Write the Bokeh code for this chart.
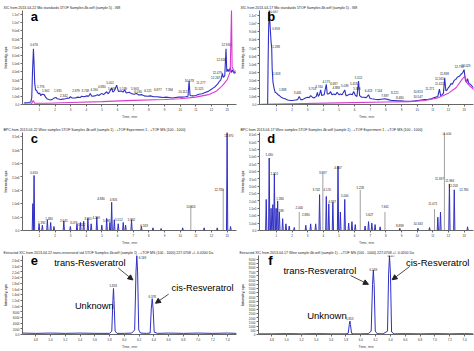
from bokeh.plotting import figure
from bokeh.layouts import column, row
from bokeh.models import FixedTicker, Label, Arrow, NormalHead, Range1d
from bokeh.embed import file_html
from bokeh.resources import INLINE
from bokeh.core.properties import value

BLUE = "#3030c4"
PINK = "#d83ccf"
GREY = "#a0a0a0"
FONT = "Liberation Sans"

# ---------------- data ----------------
# panel a : XIC total traces (time min, intensity 1e6)
a_blue_t = [0.03, 0.30, 0.45, 0.51, 0.56, 0.62, 0.66, 0.70, 0.75, 0.82, 0.87, 0.95, 1.02, 1.08, 1.18, 1.30, 1.40, 1.51,
            1.62, 1.72, 1.85, 1.95, 2.05, 2.15, 2.35, 2.50, 2.67, 2.80, 2.90, 2.98, 3.08, 3.30, 3.45, 3.60, 3.72, 3.85,
            4.04, 4.15, 4.25, 4.35, 4.56, 4.70, 4.80, 4.99, 5.10, 5.30, 5.40, 5.50, 5.62, 5.70, 5.80, 5.94, 6.05, 6.25,
            6.35, 6.45, 6.55, 6.75, 6.90, 7.05, 7.20, 7.35, 7.55, 7.70, 7.90, 8.10, 8.30, 8.50, 8.70, 8.90, 9.10, 9.30,
            9.50, 9.70, 9.90, 10.10, 10.35, 10.50, 10.57, 10.63, 10.80, 11.00, 11.20, 11.40, 11.60, 11.80, 11.95, 12.10,
            12.25, 12.40, 12.50, 12.60, 12.70, 12.75, 12.85, 12.93, 12.98, 13.05, 13.12, 13.20, 13.28, 13.35, 13.45, 13.55]
a_blue_y = [0.20, 0.25, 0.30, 0.80, 4.00, 6.80, 5.00, 2.60, 1.80, 1.70, 1.50, 1.30, 1.40, 1.10, 1.25, 1.20, 0.90, 0.66,
            0.60, 0.55, 0.65, 0.80, 0.85, 0.70, 0.60, 0.65, 0.70, 0.80, 0.75, 0.95, 0.80, 0.80, 0.90, 0.85, 1.00, 0.95,
            1.05, 1.00, 1.35, 1.00, 1.05, 1.20, 1.10, 1.35, 1.20, 1.55, 1.30, 1.60, 2.00, 1.50, 1.70, 2.35, 1.60, 1.65,
            1.50, 1.80, 1.40, 1.50, 1.30, 1.25, 1.35, 1.15, 1.20, 1.05, 1.00, 1.05, 0.95, 0.95, 0.90, 0.85, 0.90, 0.85,
            0.80, 0.85, 0.90, 0.90, 0.95, 1.00, 2.90, 1.10, 1.05, 1.10, 1.25, 1.30, 1.45, 1.60, 1.80, 2.00,
            2.20, 2.50, 2.80, 3.00, 3.80, 3.30, 3.50, 6.80, 4.00, 4.30, 4.00, 4.50, 3.90, 4.20, 3.80, 3.90]
a_pink_t = [0.00, 0.50, 0.60, 0.70, 1.50, 3.00, 5.00, 7.00, 9.00, 10.00, 11.00, 11.80, 12.30, 12.70, 13.00, 13.20, 13.28, 13.32, 13.45, 13.55]
a_pink_y = [0.05, 0.10, 0.50, 0.15, 0.15, 0.25, 0.35, 0.50, 0.60, 0.70, 0.90, 1.20, 1.60, 2.30, 3.00, 4.00, 11.60, 4.60, 4.00, 4.10]
a_lab_t = [0.66, 1.08, 1.40, 2.18, 2.56, 3.34, 3.93, 4.50, 4.99, 5.52, 5.62, 6.36, 7.10, 7.31, 7.94, 8.57, 9.30, 10.16, 10.58, 11.20, 11.32, 12.27, 12.37, 12.62, 12.94]
a_lab_y = [7.10, 2.10, 1.50, 1.60, 1.00, 1.60, 1.50, 1.70, 2.00, 2.50, 1.85, 1.80, 1.80, 1.40, 1.60, 1.70, 1.70, 1.40, 2.80, 1.80, 2.50, 3.10, 3.80, 5.35, 7.10]
a_lab = ["0.676", "1.776", "1.902", "1.935", "2.342", "2.879", "3.748", "4.190", "4.880", "5.001", "5.049", "5.539", "5.903",
         "6.030", "6.521", "6.877", "7.394", "10.112", "10.578", "11.525", "11.277", "12.267", "12.479", "12.618", "12.916"]

# panel b
b_blue_t = [-0.05, 0.44, 0.47, 0.50, 0.55, 0.58, 0.62, 0.66, 0.70, 0.73, 0.78, 0.85, 0.92, 1.02, 1.10, 1.19, 1.30, 1.40,
            1.55, 1.72, 1.90, 2.03, 2.20, 2.35, 2.46, 2.55, 2.67, 2.85, 2.98, 3.10, 3.19, 3.30, 3.40, 3.55, 3.62, 3.68,
            3.75, 3.83, 3.90, 4.05, 4.19, 4.25, 4.31, 4.40, 4.46, 4.55, 4.67, 4.78, 4.88, 5.00, 5.09, 5.20, 5.37, 5.45,
            5.51, 5.62, 5.73, 5.85, 5.94, 6.05, 6.15, 6.25, 6.32, 6.45, 6.57, 6.75, 6.89, 6.98, 7.10, 7.30, 7.52, 7.70,
            7.94, 8.15, 8.36, 8.55, 8.78, 9.00, 9.20, 9.40, 9.63, 9.85, 10.05, 10.25, 10.47, 10.70, 10.90, 11.10, 11.32,
            11.42, 11.50, 11.60, 11.68, 11.76, 11.83, 11.91, 12.00, 12.06, 12.16, 12.25, 12.37, 12.47, 12.58, 12.70,
            12.79, 12.90, 13.00, 13.08, 13.15, 13.22, 13.30, 13.40, 13.53, 13.64]
b_blue_y = [0.00, 0.00, 5.20, 9.00, 12.50, 10.30, 9.00, 7.70, 7.00, 4.40, 2.80, 2.00, 1.50, 1.40, 1.20, 1.10, 0.90, 0.80,
            0.70, 0.55, 0.50, 0.50, 0.55, 0.60, 1.00, 0.60, 0.60, 0.80, 0.90, 0.85, 1.10, 0.90, 0.80, 1.00, 1.50, 1.00,
            1.20, 1.80, 1.10, 1.20, 2.50, 1.30, 1.30, 1.40, 1.60, 1.20, 1.30, 1.20, 1.50, 1.20, 1.30, 1.20, 1.80, 1.10,
            1.10, 1.20, 1.30, 1.20, 1.60, 1.10, 1.00, 2.90, 1.10, 0.90, 0.90, 0.85, 1.20, 0.75, 0.70, 0.65, 0.60, 0.65,
            0.70, 0.60, 0.50, 0.50, 0.45, 0.45, 0.40, 0.40, 0.40, 0.45, 0.50, 0.55, 0.60, 0.65, 0.70, 0.85, 1.00,
            1.90, 1.10, 1.20, 1.40, 3.30, 1.70, 1.80, 2.10, 2.20, 2.60, 2.50, 3.00, 3.10, 3.40, 3.50,
            3.70, 3.90, 4.30, 3.00, 2.70, 3.20, 2.60, 2.50, 2.20, 2.00]
b_pink_t = [0.00, 2.00, 5.00, 8.00, 9.50, 10.50, 11.30, 12.00, 12.50, 12.90, 13.05, 13.20, 13.40, 13.64]
b_pink_y = [0.02, 0.10, 0.20, 0.30, 0.35, 0.50, 0.80, 1.40, 2.10, 3.20, 3.50, 2.60, 2.20, 1.80]
b_lab_t = [0.87, 0.98, 0.98, 1.02, 1.40, 2.35, 3.30, 3.72, 4.19, 4.67, 4.82, 5.37, 5.94, 6.25, 6.15, 6.89, 7.52, 7.94, 8.57,
           8.89, 10.05, 10.05, 10.80, 11.42, 11.42, 11.74, 12.69, 13.11]
b_lab_y = [11.30, 9.20, 7.00, 3.70, 1.70, 1.30, 1.80, 2.10, 2.65, 2.40, 1.90, 2.20, 2.40, 3.20, 1.85, 1.60, 1.60, 1.00, 1.30,
           0.66, 1.50, 0.80, 1.85, 2.50, 3.10, 3.70, 4.60, 4.70]
b_lab = ["0.687", "0.959", "1.288", "1.618", "1.838", "3.445", "3.703", "3.744", "4.175", "4.687", "4.888", "5.039", "5.418",
         "5.512", "5.996", "6.423", "7.144", "7.897", "8.221", "8.480", "10.813", "10.547", "11.271", "11.422", "11.565",
         "11.898", "12.798", "13.029"]

# panel c : BPC (time min, intensity 5e5 units)
c_pk_t = [0.58, 0.66, 0.98, 1.19, 1.51, 1.72, 1.93, 2.56, 2.98, 3.40, 3.62, 3.83, 4.10, 4.31, 4.67, 4.99, 5.30, 5.51,
          5.62, 5.79, 6.04, 6.36, 6.51, 6.89, 7.52, 8.26, 8.78, 10.16, 11.53, 12.37, 13.00, 13.22]
c_pk_h = [2.00, 4.10, 0.50, 0.40, 0.80, 0.60, 0.30, 0.70, 0.30, 0.50, 0.60, 0.70, 0.90, 0.50, 1.00, 0.40, 0.90, 0.60,
          2.10, 0.80, 0.50, 0.60, 0.40, 0.80, 0.30, 0.20, 0.15, 0.20, 0.20, 0.20, 7.30, 0.30]
c_gr_t = [10.68, 12.75]
c_gr_h = [1.85, 3.10]
c_lab_t = [0.66, 1.61, 1.15, 2.56, 3.19, 3.70, 4.10, 4.63, 4.94, 5.73, 5.30, 6.08, 6.89, 7.69, 10.68, 12.48, 13.11]
c_lab_y = [4.26, 0.83, 0.48, 0.64, 0.52, 0.35, 0.80, 0.88, 2.26, 2.19, 0.69, 0.76, 0.76, 0.26, 1.70, 2.98, 6.95]
c_lab = ["0.650", "1.484", "1.392", "2.645", "3.076", "3.412", "3.955", "4.269", "4.880", "4.926", "5.098", "5.512", "5.862",
         "6.583", "10.924", "12.785", "12.970"]

# panel d : BPC
d_pk_t = [0.35, 0.54, 0.66, 0.77, 0.87, 0.98, 1.08, 1.19, 1.40, 1.61, 1.82, 2.14, 2.88, 3.19, 3.51, 3.76, 4.19, 4.35,
          4.61, 4.94, 5.09, 5.37, 5.62, 5.83, 6.04, 6.67, 6.89, 7.10, 7.31, 7.63, 8.89, 10.05, 10.79, 11.32, 11.49,
          12.06, 12.37, 13.22]
d_pk_h = [4.20, 9.80, 3.00, 3.50, 7.70, 3.00, 4.00, 2.50, 1.60, 0.90, 0.60, 0.40, 0.70, 0.90, 0.90, 4.85, 4.60, 3.60,
          3.80, 8.70, 2.50, 4.20, 1.00, 1.20, 0.80, 0.60, 1.20, 1.00, 0.80, 0.50, 0.30, 0.30, 0.40, 1.80, 2.50,
          6.30, 5.50, 0.50]
d_gr_t = [2.46, 3.97, 6.36, 7.94, 11.11, 11.74]
d_gr_h = [2.50, 7.70, 5.50, 2.50, 2.90, 13.30]
d_lab_t = [0.54, 0.87, 1.23, 1.23, 2.46, 2.88, 3.55, 3.97, 4.25, 4.56, 4.94, 5.37, 6.36, 6.95, 7.94, 8.89, 10.05, 11.00,
           11.42, 11.89, 12.08, 12.30, 12.98]
d_lab_y = [10.10, 7.50, 4.20, 2.50, 2.98, 2.00, 5.40, 7.67, 5.40, 3.70, 8.40, 4.50, 5.60, 2.00, 3.10, 0.50, 0.73, 3.50,
           6.90, 12.90, 6.60, 5.90, 5.40]
d_lab = ["1.030", "1.221", "1.384", "1.589", "2.440", "2.880", "3.742", "3.897", "4.170", "4.387", "4.667", "5.000", "5.228",
         "5.627", "7.661", "8.898", "10.343", "11.071", "11.397", "11.658", "11.966", "12.203", "12.780"]

# panel e : extracted XIC 227.07 (standard)
e_t = [4.62, 4.80, 5.00, 5.20, 5.40, 5.60, 5.80, 5.83, 5.845, 5.853, 5.86, 5.875, 5.90, 6.00, 6.10, 6.14, 6.158, 6.169,
       6.18, 6.195, 6.22, 6.30, 6.35, 6.365, 6.378, 6.39, 6.405, 6.45, 6.60, 6.80, 7.00, 7.20, 7.40, 7.52]
e_y = [0.25, 0.20, 0.25, 0.20, 0.25, 0.20, 0.20, 0.60, 6.00, 8.10, 6.00, 0.60, 0.20, 0.20, 0.25, 0.80, 11.00, 13.90,
       11.00, 0.80, 0.25, 0.20, 0.25, 4.50, 6.30, 4.50, 0.40, 0.20, 0.25, 0.20, 0.25, 0.20, 0.25, 0.20]
e_lab_t = [5.85, 6.245, 6.378]
e_lab_y = [8.40, 13.40, 6.50]
e_lab = ["5.853", "6.169", "6.378"]

# panel f : extracted XIC 227.07 (wine)
f_t = [4.62, 4.80, 5.00, 5.20, 5.40, 5.60, 5.80, 5.83, 5.845, 5.853, 5.86, 5.875, 5.90, 6.00, 6.10, 6.14, 6.158, 6.169,
       6.18, 6.195, 6.22, 6.30, 6.36, 6.375, 6.387, 6.40, 6.415, 6.45, 6.60, 6.80, 7.00, 7.20, 7.40, 7.52]
f_y = [0.15, 0.15, 0.20, 0.15, 0.20, 0.15, 0.15, 0.30, 2.40, 3.20, 2.40, 0.30, 0.15, 0.15, 0.20, 0.80, 12.00, 15.40,
       12.00, 0.80, 0.20, 0.15, 0.80, 14.50, 18.90, 14.50, 0.60, 0.15, 0.20, 0.15, 0.20, 0.15, 0.20, 0.15]
f_lab_t = [5.85, 6.169, 6.41]
f_lab_y = [3.50, 15.30, 18.60]
f_lab = ["5.853", "6.169", "6.387"]

# axis ticks
tm_ticks = list(range(1, 14))
a_yt = list(range(0, 12))
a_yl = ["0.0", "1.0e6", "2.0e6", "3.0e6", "4.0e6", "5.0e6", "6.0e6", "7.0e6", "8.0e6", "9.0e6", "1.0e7", "1.1e7"]
b_yl = ["0.0", "1.0e6", "2.0e6", "3.0e6", "4.0e6", "5.0e6", "6.0e6", "7.0e6", "8.0e6", "9.0e6", "1.0e7", "1.1e7"]
c_yt = list(range(0, 8))
c_yl = ["0.0", "5.0e5", "1.0e6", "1.5e6", "2.0e6", "2.5e6", "3.0e6", "3.5e6"]
d_yt = list(range(0, 14))
d_yl = ["0.0", "5.0e4", "1.0e5", "1.5e5", "2.0e5", "2.5e5", "3.0e5", "3.5e5", "4.0e5", "4.5e5", "5.0e5", "5.5e5", "6.0e5", "6.5e5"]
e_yt = list(range(0, 14))
e_yl = ["0.0", "2000", "4000", "6000", "8000", "1.0e4", "1.2e4", "1.4e4", "1.6e4", "1.8e4", "2.0e4", "2.2e4", "2.4e4", "2.6e4"]
f_yt = list(range(0, 19))
f_yl = ["0", "500", "1000", "1500", "2000", "2500", "3000", "3500", "4000", "4500", "5000", "5500", "6000", "6500",
        "7000", "7500", "8000", "8500", "9000"]
ef_xt = [4.8, 5.0, 5.2, 5.4, 5.6, 5.8, 6.0, 6.2, 6.4, 6.6, 6.8, 7.0, 7.2, 7.4]

hdr = {
    "a": "XIC from 2013-04-22 Mix standards 5TOF Samples 4b.wiff (sample 5) - W8",
    "b": "XIC from 2013-04-17 Mix standards 5TOF Samples 4b.wiff (sample 5) - W8",
    "c": "BPC from 2013-04-22 Wine samples 5TOF Samples 4b.wiff (sample 1) - +TOF Experiment 1 - +TOF MS (100 - 1000)",
    "d": "BPC from 2013-04-17 Wine samples 5TOF Samples 4b.wiff (sample 1) - +TOF Experiment 1 - +TOF MS (100 - 1000)",
    "e": "Extracted XIC from 2013-04-22 trans-resveratrol std 5TOF Samples 4b.wiff (sample 1) - +TOF MS (100 - 1000) 227.0708 +/- 0.0200 Da",
    "f": "Extracted XIC from 2013-04-17 Wine sample 4b.wiff (sample 1) - +TOF MS (100 - 1000) 227.0708 +/- 0.0200 Da",
}


def make(letter, h, xr, yr, xt, xl, yt, yl, top, bottom, xlabel):
    p = figure(width=237, height=h, x_range=Range1d(*xr), y_range=Range1d(*yr),
               output_backend="svg", toolbar_location=None,
               min_border_left=20, min_border_right=1, min_border_top=top, min_border_bottom=bottom)
    p.title.text = hdr[letter]
    p.title.text_font_size = "3.5px"
    p.title.text_font_style = "normal"
    p.title.text_font = FONT
    p.title.text_color = "#222222"
    p.title.offset = -19
    p.title.standoff = 1
    p.outline_line_color = None
    p.grid.visible = False
    for ax in (p.xaxis[0], p.yaxis[0]):
        ax.axis_line_color = "#666666"
        ax.major_tick_line_color = "#666666"
        ax.minor_tick_line_color = None
        ax.major_tick_out = 2
        ax.major_tick_in = 0
        ax.major_label_text_font_size = "3px"
        ax.major_label_text_font = FONT
        ax.major_label_text_color = "#333333"
        ax.major_label_standoff = 1
        ax.axis_label_text_font_size = "3.5px"
        ax.axis_label_text_font = FONT
        ax.axis_label_text_font_style = "normal"
        ax.axis_label_standoff = 1
    p.xaxis.ticker = FixedTicker(ticks=xt)
    p.xaxis.major_label_overrides = {t: s for t, s in zip(xt, xl)}
    p.yaxis.ticker = FixedTicker(ticks=yt)
    p.yaxis.major_label_overrides = {t: s for t, s in zip(yt, yl)}
    p.xaxis.axis_label = xlabel
    p.yaxis.axis_label = "Intensity, cps"
    p.yaxis.axis_label_text_font_style = "bold"
    p.add_layout(Label(x=xr[0] + 0.055 * (xr[1] - xr[0]), y=yr[1] * 0.94, text=letter,
                       text_font=FONT, text_font_style="bold", text_font_size="13px",
                       text_baseline="middle", text_align="center", text_color="black"))
    return p


def labels(p, ts, ys, txt):
    p.text(x=ts, y=ys, text=txt, text_font=value(FONT), text_font_size="3px", text_color="#222222",
           text_align="center", text_baseline="bottom")


def spikes(ts, hs, hw):
    xs, ys = [], []
    for t, hh in zip(ts, hs):
        xs += [t - hw, t, t + hw]
        ys += [0, hh, 0]
    return xs, ys


tlab = [str(t) for t in tm_ticks]
TR = (-0.08, 13.6)

pa = make("a", 121, TR, (0, 11.45), tm_ticks, tlab, a_yt, a_yl, 10, 8, "Time, min")
pa.line(a_blue_t, a_blue_y, line_color=BLUE, line_width=1.1)
pa.line(a_pink_t, a_pink_y, line_color=PINK, line_width=1.1)
labels(pa, a_lab_t, a_lab_y, a_lab)

pb = make("b", 121, TR, (0, 11.6), tm_ticks, tlab, a_yt, b_yl, 10, 8, "Time, min")
pb.line(b_blue_t, b_blue_y, line_color=BLUE, line_width=1.1)
pb.line(b_pink_t, b_pink_y, line_color=PINK, line_width=1.1)
labels(pb, b_lab_t, b_lab_y, b_lab)

pc = make("c", 126, TR, (0, 7.3), tm_ticks, tlab, c_yt, c_yl, 11, 13, "Time, min")
pc.segment(x0=c_gr_t, y0=[0] * len(c_gr_t), x1=c_gr_t, y1=c_gr_h, line_color=GREY, line_width=1)
cx, cy = spikes(c_pk_t, c_pk_h, 0.04)
pc.line(cx, cy, line_color=BLUE, line_width=1)
labels(pc, c_lab_t, c_lab_y, c_lab)

pd = make("d", 126, TR, (0, 13.25), tm_ticks, tlab, d_yt, d_yl, 11, 13, "Time, min")
pd.segment(x0=d_gr_t, y0=[0] * len(d_gr_t), x1=d_gr_t, y1=d_gr_h, line_color=GREY, line_width=1)
dx, dy = spikes(d_pk_t, d_pk_h, 0.04)
pd.line(dx, dy, line_color=BLUE, line_width=1)
labels(pd, d_lab_t, d_lab_y, d_lab)

ef_xl = ["%.1f" % v for v in ef_xt]
ER = (4.62, 7.52)
pe = make("e", 104, ER, (0, 13.9), ef_xt, ef_xl, e_yt, e_yl, 8, 8, "Time, min")
pe.line(e_t, e_y, line_color=BLUE, line_width=1)
labels(pe, e_lab_t, e_lab_y, e_lab)

pf = make("f", 104, ER, (0, 18.9), ef_xt, ef_xl, f_yt, f_yl, 8, 8, "Time, min")
pf.line(f_t, f_y, line_color=BLUE, line_width=1)
labels(pf, f_lab_t, f_lab_y, f_lab)


def annotate(p, items, arrows, size):
    for (x, y, s) in items:
        p.add_layout(Label(x=x, y=y, text=s, text_font=FONT, text_font_size=size,
                           text_baseline="middle", text_align="left", text_color="black"))
    for (x0, y0, x1, y1) in arrows:
        p.add_layout(Arrow(x_start=x0, y_start=y0, x_end=x1, y_end=y1, line_color="#222222", line_width=0.8,
                           end=NormalHead(size=5, fill_color="#222222", line_color="#222222")))


annotate(pe, [(5.05, 12.6, "trans-Resveratrol"), (6.64, 8.2, "cis-Resveratrol"), (5.33, 5.0, "Unknown")],
         [(5.917, 11.7, 6.116, 9.6), (6.60, 7.1, 6.422, 5.5)], "9.3px")
annotate(pf, [(4.956, 15.2, "trans-Resveratrol"), (6.609, 17.2, "cis-Resveratrol"), (5.276, 4.5, "Unknown")],
         [(5.863, 14.1, 6.103, 12.0), (6.662, 16.3, 6.422, 13.1)], "9.5px")

layout = column(row(pa, pb), row(pc, pd), row(pe, pf))
open("out.html", "w").write(file_html(layout, INLINE))
